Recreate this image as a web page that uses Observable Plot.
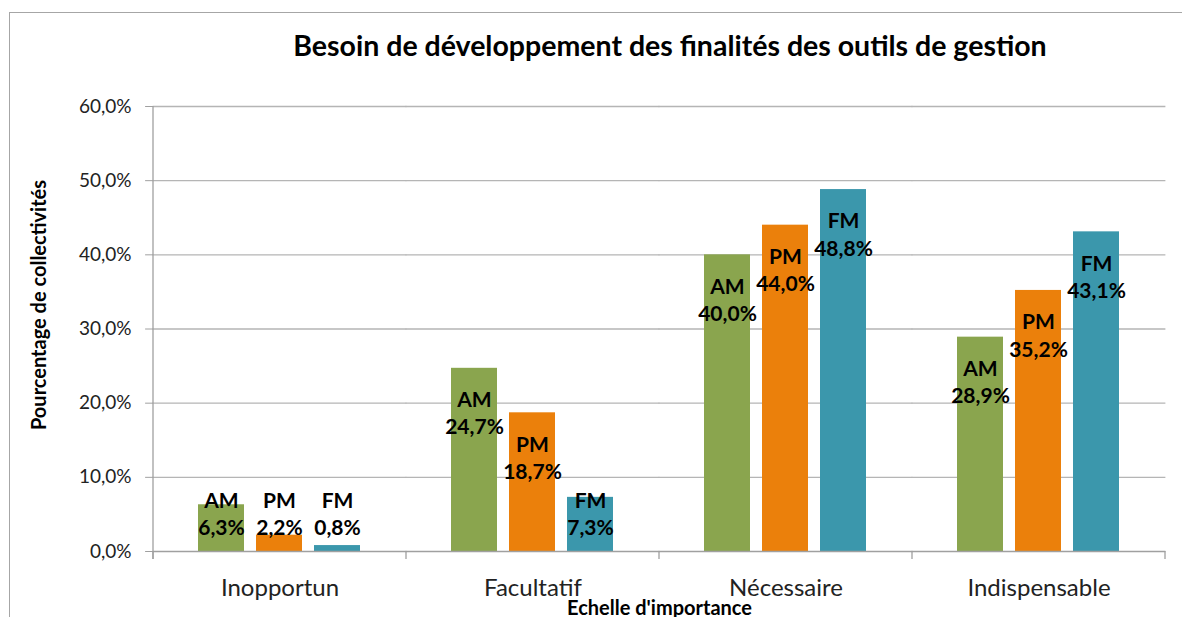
<!DOCTYPE html>
<html>
<head>
<meta charset="utf-8">
<script src="https://cdn.jsdelivr.net/npm/d3@7"></script>
<script src="https://cdn.jsdelivr.net/npm/@observablehq/plot@0.6"></script>
<style>
  html, body { margin: 0; padding: 0; background: #fff; overflow: hidden; }
  #wrap { position: relative; width: 1182px; height: 617px; overflow: hidden; font-family: Lato, sans-serif; }
  #border { position: absolute; left: 9px; top: 12px; width: 1300px; height: 800px; border: 1px solid #a6a6a6; box-sizing: border-box; }
  #title { position: absolute; left: 158px; width: 1024px; top: 31px; text-align: center; font-weight: bold; font-size: 28.5px; line-height: 1; color: #000; }
  #ytitle { position: absolute; left: 38px; top: 305px; transform: translate(-50%, -50%) rotate(-90deg); white-space: nowrap; font-weight: bold; font-size: 20px; line-height: 1; color: #000; }
  #chart { position: absolute; left: 0; top: 80px; }
</style>
</head>
<body>
<div id="wrap">
  <div id="border"></div>
  <div id="title">Besoin de développement des finalités des outils de gestion</div>
  <div id="chart"></div>
  <div id="ytitle"></div>
</div>
<script>
const categories = ["Inopportun", "Facultatif", "Nécessaire", "Indispensable"];
const series = ["AM", "PM", "FM"];
const amValues = [6.3, 24.7, 40.0, 28.9];
const pmValues = [2.2, 18.7, 44.0, 35.2];
const fmValues = [0.8, 7.3, 48.8, 43.1];
const yTicks = [0, 10, 20, 30, 40, 50, 60];
const colors = ["#8aa54e", "#eb800b", "#3b97ac"];
const yTitle = "Pourcentage de collectivités";
const xTitle = "Echelle d'importance";

document.getElementById("ytitle").textContent = yTitle;

const valuesBySeries = {AM: amValues, PM: pmValues, FM: fmValues};
const data = [];
categories.forEach((c, i) => {
  series.forEach(s => data.push({category: c, series: s, value: valuesBySeries[s][i]}));
});

const pct = v => v.toFixed(1).replace(".", ",") + "%";

const W = 1182, ML = 153, MR = 17;
const padInner = 0.347, padOuter = padInner / 2;
const step = (W - ML - MR) / (categories.length - padInner + 2 * padOuter);
const halfGap = step * padInner / 2;   // distance from a facet's edge to the category boundary

const plot = Plot.plot({
  width: W,
  height: 537,
  marginLeft: ML,
  marginRight: MR,
  marginTop: 26,
  marginBottom: 66,
  style: {fontFamily: "Lato, sans-serif", color: "#222", background: "transparent", overflow: "hidden"},
  fx: {domain: categories, paddingInner: padInner, paddingOuter: padOuter, label: null},
  x: {domain: series, paddingInner: 0.2, paddingOuter: 0, axis: null},
  y: {domain: [0, 60], label: null},
  color: {domain: series, range: colors},
  marks: [
    Plot.ruleY(yTicks.slice(1), {stroke: "#b5b5b5", strokeWidth: 1.3, insetLeft: -halfGap - 0.5, insetRight: -halfGap - 0.5}),
    Plot.axisY({ticks: yTicks, tickFormat: pct, tickSize: 8, tickPadding: 14, fontSize: 19, label: null, stroke: "#a0a0a0", dx: -halfGap}),
    Plot.axisFx({anchor: "bottom", tickSize: 0, tickPadding: 27, fontSize: 24, label: null}),
    Plot.barY(data, {fx: "category", x: "series", y: "value", fill: "series"}),
    Plot.text(data, {
      fx: "category", x: "series",
      y: d => Math.max(d.value - 5.9, 5.2),
      text: d => d.series + "\n" + pct(d.value),
      fontWeight: "bold", fontSize: 21, lineHeight: 1.3, fill: "#000"
    }),
    Plot.ruleY([0], {stroke: "#a0a0a0", strokeWidth: 1.3, insetLeft: -halfGap - 0.5, insetRight: -halfGap - 0.5}),
    Plot.text([xTitle], {facet: "super", frameAnchor: "bottom", dy: 63, fontWeight: "bold", fontSize: 20, fill: "#000"})
  ]
});

// y axis line and category boundary tick marks, derived from the plot's own scales
const fx = plot.scale("fx");
const yS = plot.scale("y");
const y0 = yS.apply(0);
const yTop = yS.apply(60);
const half = (fx.step - fx.bandwidth) / 2;
const edges = fx.domain.map(c => fx.apply(c) - half);
edges.push(fx.apply(fx.domain[fx.domain.length - 1]) + fx.bandwidth + half);
const g = d3.select(plot).append("g").attr("stroke", "#a0a0a0").attr("stroke-width", 1.3);
g.append("line").attr("x1", edges[0]).attr("x2", edges[0]).attr("y1", yTop).attr("y2", y0 + 8);
edges.forEach(x => g.append("line").attr("x1", x).attr("x2", x).attr("y1", y0).attr("y2", y0 + 8));

document.getElementById("chart").appendChild(plot);
</script>
</body>
</html>
